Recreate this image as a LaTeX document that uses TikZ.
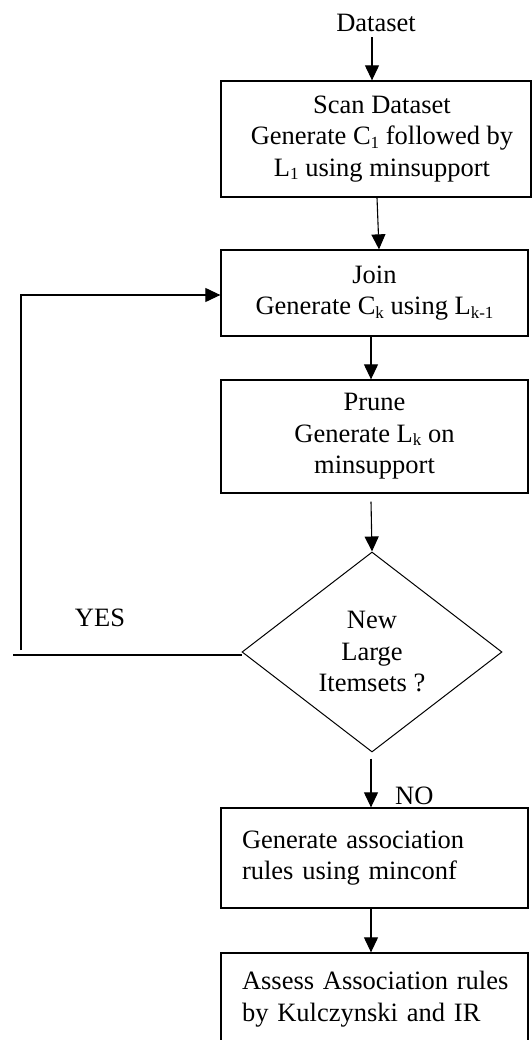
\documentclass[tikz,border=0pt]{standalone}
\usepackage{fontspec}
\setmainfont{Liberation Serif}
\usetikzlibrary{shapes.geometric,arrows.meta}
\newcommand\mysub[1]{\raisebox{-3.5pt}{\fontsize{17}{17}\selectfont #1}}
\begin{document}
\begin{tikzpicture}[x=1pt,y=-1pt,
  font=\fontsize{26.5}{31.5}\selectfont,
  stepbox/.style={draw, line width=1.3pt, minimum width=307pt, inner sep=0pt, align=center},
  leftbox/.style={draw, line width=1.3pt, text width=307pt, inner xsep=0pt, inner ysep=0pt, align=left},
  decision/.style={draw, diamond, line width=1pt, minimum width=260pt, minimum height=200pt, inner sep=0pt, align=center},
  lbl/.style={inner sep=0pt},
  arr/.style={line width=1.1pt, -{Triangle[length=15pt,width=14pt]}},
  ln/.style={line width=1.1pt}]
\useasboundingbox (0,0) rectangle (532,1040);
\fill[white] (0,0) rectangle (532,1040);

\node[lbl, anchor=base] (ds) at (376,32) {Dataset};
\node[stepbox, minimum width=310pt, minimum height=116pt] (scan) at (376,139)
  {\hspace*{12pt}Scan Dataset\\\hspace*{12pt}Generate C\mysub{1} followed by\\\hspace*{12pt}L\mysub{1} using minsupport};
\node[stepbox, minimum height=86pt] (join) at (374.5,293)
  {Join\\Generate C\mysub{k} using L\mysub{k-1}};
\node[stepbox, minimum height=113pt] (prune) at (374.5,436.5)
  {Prune\\Generate L\mysub{k} on\\minsupport};
\node[decision] (dia) at (372,652) {New\\Large\\Itemsets ?};
\node[leftbox, minimum height=100pt] (gen) at (374.5,858)
  {\hspace*{21pt}Generate association\\\hspace*{21pt}rules using minconf};
\node[leftbox, minimum height=92pt] (assess) at (374.5,999)
  {\hspace*{21pt}Assess Association rules\\\hspace*{21pt}by Kulczynski and IR};

\node[lbl, anchor=base] (yes) at (100,626) {YES};
\node[lbl, anchor=base west] (no) at (395,804) {NO};

\coordinate (yesend) at (13,655);
\coordinate (fbstart) at (21,650);

\draw[arr] ([xshift=-4pt,yshift=-5pt]ds.south) -- ([xshift=-4pt]ds.south |- scan.north);
\draw[arr] ([xshift=1pt]scan.south) -- ([xshift=4.5pt]join.north);
\draw[arr] ([xshift=-3.5pt]join.south) -- ([xshift=-3.5pt]prune.north);
\draw[arr] ([xshift=-3.5pt,yshift=-8pt]prune.south) -- (dia.north);
\draw[arr] ([xshift=-1pt,yshift=-6pt]dia.south) -- ([xshift=-3.5pt]gen.north);
\draw[arr] ([xshift=-3.5pt]gen.south) -- ([xshift=-3.5pt]assess.north);
\draw[ln] ([yshift=-3pt]dia.west) -- (yesend);
\draw[arr] (fbstart) |- ([yshift=-2pt]join.west);
\end{tikzpicture}
\end{document}
